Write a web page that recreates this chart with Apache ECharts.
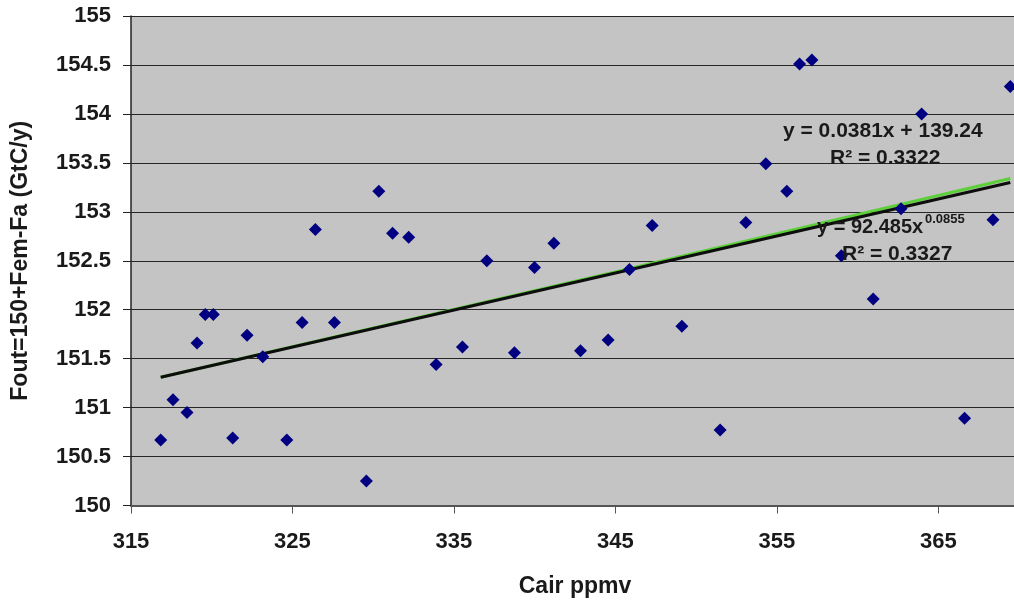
<!DOCTYPE html>
<html>
<head>
<meta charset="utf-8">
<script src="https://cdn.jsdelivr.net/npm/echarts@6/dist/echarts.min.js"></script>
<style>
  html, body { margin: 0; padding: 0; background: #fff; }
  #chart { width: 1014px; height: 602px; }
</style>
</head>
<body>
<div id="chart"></div>
<script>
const cairPpmv = [
  316.84, 317.6, 318.47, 319.09, 319.6, 320.1, 321.3, 322.19, 323.16, 324.65,
  325.6, 326.42, 327.6, 329.58, 330.35, 331.2, 332.2, 333.9, 335.53, 337.04,
  338.75, 339.99, 341.19, 342.84, 344.55, 345.87, 347.28, 349.12, 351.49, 353.08,
  354.32, 355.62, 356.41, 357.17, 359.0, 360.97, 362.69, 363.97, 366.63, 368.39,
  369.46
];
const foutValues = [
  150.67, 151.08, 150.95, 151.66, 151.95, 151.95, 150.69, 151.74, 151.52, 150.67,
  151.87, 152.82, 151.87, 150.25, 153.21, 152.78, 152.74, 151.44, 151.62, 152.50,
  151.56, 152.43, 152.68, 151.58, 151.69, 152.41, 152.86, 151.83, 150.77, 152.89,
  153.49, 153.21, 154.51, 154.55, 152.55, 152.11, 153.03, 154.00, 150.89, 152.92,
  154.28
];

// trend lines, end points
const linearX = [316.84, 369.46];
const linearY = [151.31, 153.30];
const powerX = [316.84, 345, 369.46];
const powerY = [151.31, 152.385, 153.34];

const yTicks = { min: 150, max: 155, step: 0.5 };
const xTicks = { min: 315, max: 370, step: 10 };

const font = "'Liberation Sans', Arial, sans-serif";
const ink = "#1a1a1a";

const chart = echarts.init(document.getElementById("chart"));

const pairs = (xs, ys) => xs.map((x, i) => [x, ys[i]]);

const option = {
  backgroundColor: "#fff",
  animation: false,
  grid: {
    left: 131, top: 16, width: 888, bottom: 96.5,
    containLabel: false, outerBoundsMode: "none",
    show: true, backgroundColor: "#c4c4c4", borderWidth: 0
  },
  xAxis: {
    type: "value",
    min: xTicks.min, max: xTicks.max, interval: xTicks.step,
    name: "Cair ppmv",
    nameLocation: "middle",
    nameGap: 70,
    nameTextStyle: { fontFamily: font, fontWeight: "bold", fontSize: 23, color: ink },
    axisLine: { lineStyle: { color: "#555", width: 2 } },
    axisTick: { show: true, length: 8, lineStyle: { color: "#555", width: 1 } },
    axisLabel: {
      fontFamily: font, fontWeight: "bold", fontSize: 22, color: ink,
      margin: 25, showMaxLabel: false
    },
    splitLine: { show: false }
  },
  yAxis: {
    type: "value",
    min: yTicks.min, max: yTicks.max, interval: yTicks.step,
    name: "Fout=150+Fem-Fa (GtC/y)",
    nameLocation: "middle",
    nameGap: 99,
    nameTextStyle: { fontFamily: font, fontWeight: "bold", fontSize: 23, color: ink },
    axisLine: { show: true, lineStyle: { color: "#222", width: 1.5 } },
    axisTick: { show: true, length: 8, inside: false, lineStyle: { color: "#222", width: 1 } },
    axisLabel: { fontFamily: font, fontWeight: "bold", fontSize: 22, color: ink, margin: 20 },
    splitLine: { show: true, lineStyle: { color: "#262626", width: 1.2 } }
  },
  graphic: [
    { type: "text", x: 783, y: 131, z: 100,
      style: { text: "y = 0.0381x + 139.24", font: "bold 21px " + font, fill: ink, textVerticalAlign: "middle" } },
    { type: "text", x: 830, y: 158, z: 100,
      style: { text: "R² = 0.3322", font: "bold 21px " + font, fill: ink, textVerticalAlign: "middle" } },
    { type: "text", x: 817, y: 227, z: 100,
      style: { text: "y = 92.485x", font: "bold 20px " + font, fill: ink, textVerticalAlign: "middle" } },
    { type: "text", x: 925, y: 219, z: 100,
      style: { text: "0.0855", font: "bold 13px " + font, fill: ink, textVerticalAlign: "middle" } },
    { type: "text", x: 842, y: 254, z: 100,
      style: { text: "R² = 0.3327", font: "bold 21px " + font, fill: ink, textVerticalAlign: "middle" } }
  ],
  series: [
    {
      name: "Power",
      type: "line",
      data: pairs(powerX, powerY),
      showSymbol: false,
      lineStyle: { color: "#5ccf3a", width: 3 },
      z: 3
    },
    {
      name: "Linear",
      type: "line",
      data: pairs(linearX, linearY),
      showSymbol: false,
      lineStyle: { color: "#0d0d0d", width: 3 },
      z: 4
    },
    {
      name: "Fout",
      type: "scatter",
      symbol: "diamond",
      symbolSize: 13,
      itemStyle: { color: "#000080", opacity: 1 },
      data: pairs(cairPpmv, foutValues),
      z: 5
    }
  ]
};

chart.setOption(option);
window.addEventListener("resize", () => chart.resize());
</script>
</body>
</html>
